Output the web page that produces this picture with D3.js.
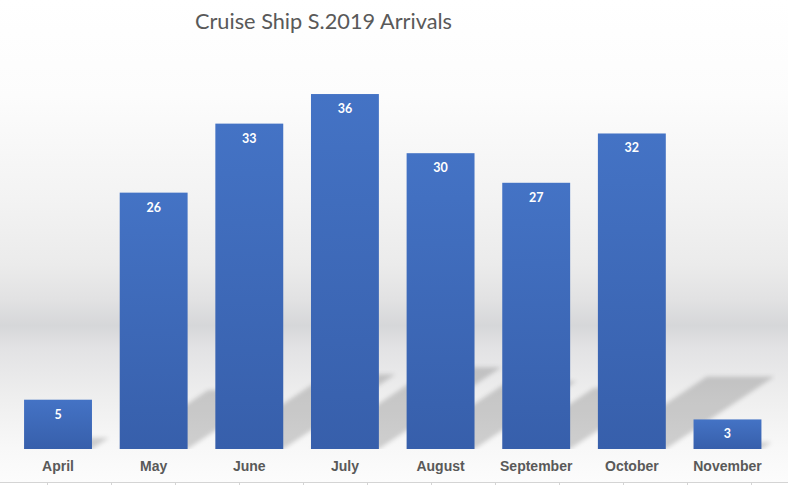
<!DOCTYPE html>
<html>
<head>
<meta charset="utf-8">
<script src="https://cdn.jsdelivr.net/npm/d3@7/dist/d3.min.js"></script>
<style>
  html, body { margin: 0; padding: 0; background: #ffffff; }
  svg { display: block; }
</style>
</head>
<body>
<svg id="chart" width="788" height="485"></svg>
<script>
const title = "Cruise Ship S.2019 Arrivals";
const months = ["April", "May", "June", "July", "August", "September", "October", "November"];
const arrivals = [5, 26, 33, 36, 30, 27, 32, 3];
const yDomain = [0, 40];

const W = 788, H = 485;
const svg = d3.select("#chart");
const defs = svg.append("defs");

// background gradient
const bg = defs.append("linearGradient").attr("id", "bgGrad")
  .attr("gradientUnits", "userSpaceOnUse").attr("x1", 0).attr("y1", 0).attr("x2", 0).attr("y2", 482);
[[0, "#ffffff"], [0.2, "#fcfcfc"], [0.41, "#f3f3f3"], [0.55, "#ebebeb"], [0.62, "#e2e2e3"],
 [0.675, "#d6d7d9"], [0.72, "#e2e2e4"], [0.82, "#eeeeee"], [0.93, "#f8f8f8"], [1, "#fcfcfc"]]
  .forEach(([o, c]) => bg.append("stop").attr("offset", o).attr("stop-color", c));

const barGrad = defs.append("linearGradient").attr("id", "barGrad")
  .attr("x1", 0).attr("y1", 0).attr("x2", 0).attr("y2", 1);
barGrad.append("stop").attr("offset", 0).attr("stop-color", "#4473c5");
barGrad.append("stop").attr("offset", 1).attr("stop-color", "#375fab");

defs.append("filter").attr("id", "blur").attr("x", "-20%").attr("y", "-20%").attr("width", "140%").attr("height", "140%")
  .append("feGaussianBlur").attr("stdDeviation", 2);

defs.append("clipPath").attr("id", "plotClip")
  .append("rect").attr("x", 0).attr("y", 0).attr("width", 776).attr("height", 449);

svg.append("rect").attr("x", 0).attr("y", 0).attr("width", W).attr("height", 482).attr("fill", "url(#bgGrad)");

// spreadsheet cell grid below chart
svg.append("line").attr("x1", 0).attr("x2", W).attr("y1", 482.5).attr("y2", 482.5)
  .attr("stroke", "#d4d4d4").attr("stroke-width", 1);
d3.range(0, 12).forEach(k => {
  const gx = Math.round(47 + 64 * k) + 0.5;
  svg.append("line").attr("x1", gx).attr("x2", gx).attr("y1", 482).attr("y2", H)
    .attr("stroke", "#d4d4d4").attr("stroke-width", 1);
});

const x = d3.scaleBand().domain(months).range([10.2, 775.3]).paddingInner(0.29).paddingOuter(0.145);
const y = d3.scaleLinear().domain(yDomain).range([449, 54.6]);

const data = months.map((m, i) => ({ m, v: arrivals[i] }));

// perspective shadows
const sScale = 0.23, skew = 1.5;
svg.append("g").attr("clip-path", "url(#plotClip)")
  .append("g").attr("filter", "url(#blur)")
  .selectAll("path").data(data).join("path")
  .attr("d", d => {
    const x0 = x(d.m), x1 = x0 + x.bandwidth(), b = y(0);
    const h = (y(0) - y(d.v)) * sScale;
    const dx = h * skew;
    return `M${x0},${b}L${x1},${b}L${x1 + dx},${b - h}L${x0 + dx},${b - h}Z`;
  })
  .attr("fill", "rgba(0,0,0,0.17)");

// bars
svg.append("g").selectAll("rect").data(data).join("rect")
  .attr("x", d => x(d.m)).attr("width", x.bandwidth())
  .attr("y", d => y(d.v)).attr("height", d => y(0) - y(d.v))
  .attr("fill", "url(#barGrad)");

// value labels
svg.append("g").selectAll("text").data(data).join("text")
  .attr("x", d => x(d.m) + x.bandwidth() / 2)
  .attr("y", d => y(d.v) + 19)
  .attr("text-anchor", "middle")
  .attr("font-family", "Lato, 'Open Sans', sans-serif")
  .attr("font-weight", "bold").attr("font-size", 12.5)
  .attr("fill", "#ffffff")
  .text(d => d.v);

// category axis labels
const xAxis = d3.axisBottom(x).tickSize(0).tickPadding(0);
const gx = svg.append("g").attr("transform", "translate(0,449)").call(xAxis);
gx.select(".domain").remove();
gx.selectAll("text")
  .attr("y", 22).attr("dy", 0)
  .attr("font-family", "'Liberation Sans', Arial, sans-serif")
  .attr("font-weight", "bold").attr("font-size", 14)
  .attr("fill", "#595959");

// title
svg.append("text")
  .attr("x", 323.5).attr("y", 29)
  .attr("text-anchor", "middle")
  .attr("font-family", "Lato, 'Open Sans', sans-serif")
  .attr("font-size", 20.5)
  .attr("fill", "#595959")
  .attr("textLength", 257).attr("lengthAdjust", "spacingAndGlyphs")
  .text(title);
</script>
</body>
</html>
